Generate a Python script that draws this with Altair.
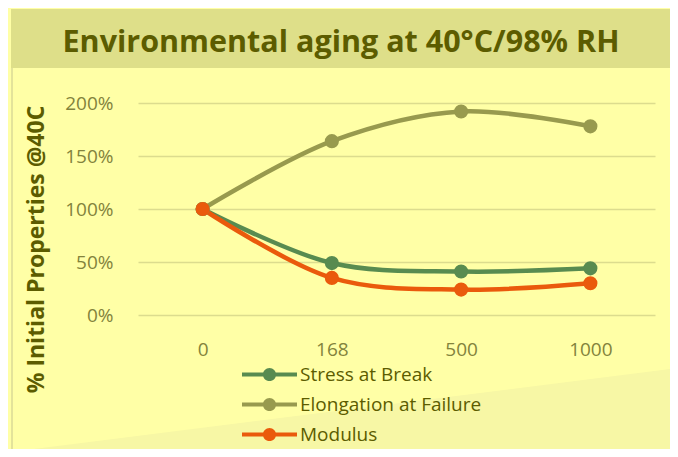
import altair as alt
import pandas as pd

TITLE = "Environmental aging at 40°C/98% RH"
Y_TITLE = "% Initial Properties @40C"
hours = ["0", "168", "500", "1000"]
series = ["Stress at Break", "Elongation at Failure", "Modulus"]
stress = [100, 49, 41, 44]
elongation = [100, 164, 192, 178]
modulus = [100, 35, 24, 30]
colors = ["#588B50", "#989A4E", "#EA5A0C"]

rows = []
for name, vals in zip(series, [stress, elongation, modulus]):
    for h, v in zip(hours, vals):
        rows.append({"hours": h, "series": name, "value": v / 100})
df = pd.DataFrame(rows)

BG = "#FFFFA6"
BAND = "#DEDF89"
LOWER = "#F7F7A5"
TEXT_DARK = "#5C5C00"
LABEL = "#83833C"
FONT = "Open Sans"

# legend symbol: thick line with a circle in the middle
SYM = ("M-1,-0.075 L1,-0.075 L1,0.075 L-1,0.075 Z "
       "M0.24,0 A0.24,0.24 0 1,1 -0.24,0 A0.24,0.24 0 1,1 0.24,0 Z")
# faint lighter diagonal region at the bottom of the card
DIAG = "M-0.8725,0.08625 L0.8775,-0.13375 L0.8775,0.125 L-0.8725,0.125 Z"

x_enc = alt.X("hours:O", sort=hours, title=None,
              scale=alt.Scale(paddingInner=0, paddingOuter=0.5),
              axis=alt.Axis(labelAngle=0, labelFont=FONT, labelFontSize=19,
                            labelColor=LABEL, labelPadding=25, ticks=False,
                            domain=False, grid=False))
y_enc = alt.Y("value:Q", title=Y_TITLE,
              scale=alt.Scale(domain=[0, 2], nice=False),
              axis=alt.Axis(format=".0%", values=[0, 0.5, 1, 1.5, 2],
                            labelFont=FONT, labelFontSize=19, labelColor=LABEL,
                            labelPadding=25, ticks=False, domain=False,
                            gridColor="#DCDC8E", gridWidth=1.3,
                            titleFont=FONT, titleFontSize=23, titleFontWeight="bold",
                            titleColor=TEXT_DARK, titleX=-102, titleY=146,
                            titleAlign="center", titleBaseline="middle",
                            titleAngle=-90))
legend = alt.Legend(title=None, orient="none", legendX=104, legendY=262,
                    direction="vertical", symbolType=SYM, symbolSize=3025,
                    symbolStrokeWidth=0, labelFont=FONT, labelFontSize=19,
                    labelColor=TEXT_DARK, labelOffset=3, rowPadding=10,
                    clipHeight=19, labelLimit=400)
color_enc = alt.Color("series:N", sort=series,
                      scale=alt.Scale(domain=series, range=colors),
                      legend=legend)

one = pd.DataFrame({"t": [TITLE]})

lower = alt.Chart(one).mark_point(shape=DIAG, size=640000, filled=True,
                                  color=LOWER, opacity=1, strokeWidth=0).encode(
    x=alt.value(201), y=alt.value(317))
band = alt.Chart(one).mark_rect(color=BAND).encode(
    x=alt.value(-127), x2=alt.value(535), y=alt.value(-94), y2=alt.value(-35))
left_border = alt.Chart(one).mark_rule(color="#E3E39A", strokeWidth=2).encode(
    x=alt.value(-126), y=alt.value(-35), y2=alt.value(360))
right_border = alt.Chart(one).mark_rule(color="#E3E39A", strokeWidth=2).encode(
    x=alt.value(534), y=alt.value(-35), y2=alt.value(360))
title = alt.Chart(one).mark_text(font=FONT, fontSize=30.5, fontWeight="bold",
                                 color=TEXT_DARK, baseline="alphabetic",
                                 align="center").encode(
    text="t:N", x=alt.value(203), y=alt.value(-51))

lines = alt.Chart(df).mark_line(strokeWidth=4.5, interpolate="catmull-rom").encode(
    x=x_enc, y=y_enc, color=color_enc, detail="series:N")
points = alt.Chart(df).mark_point(filled=True, size=200, opacity=1).encode(
    x=x_enc, y=y_enc, color=color_enc)

chart = alt.layer(lower, band, left_border, right_border, title, lines, points).properties(
    width=517, height=212,
    autosize=alt.AutoSizeParams(type="none"),
    padding={"left": 130, "top": 95, "right": 15, "bottom": 134},
    background=BG,
).configure_view(stroke=None).configure_legend(symbolStrokeWidth=0)

chart.save("out.html", embed_options={"renderer": "svg", "actions": False})
